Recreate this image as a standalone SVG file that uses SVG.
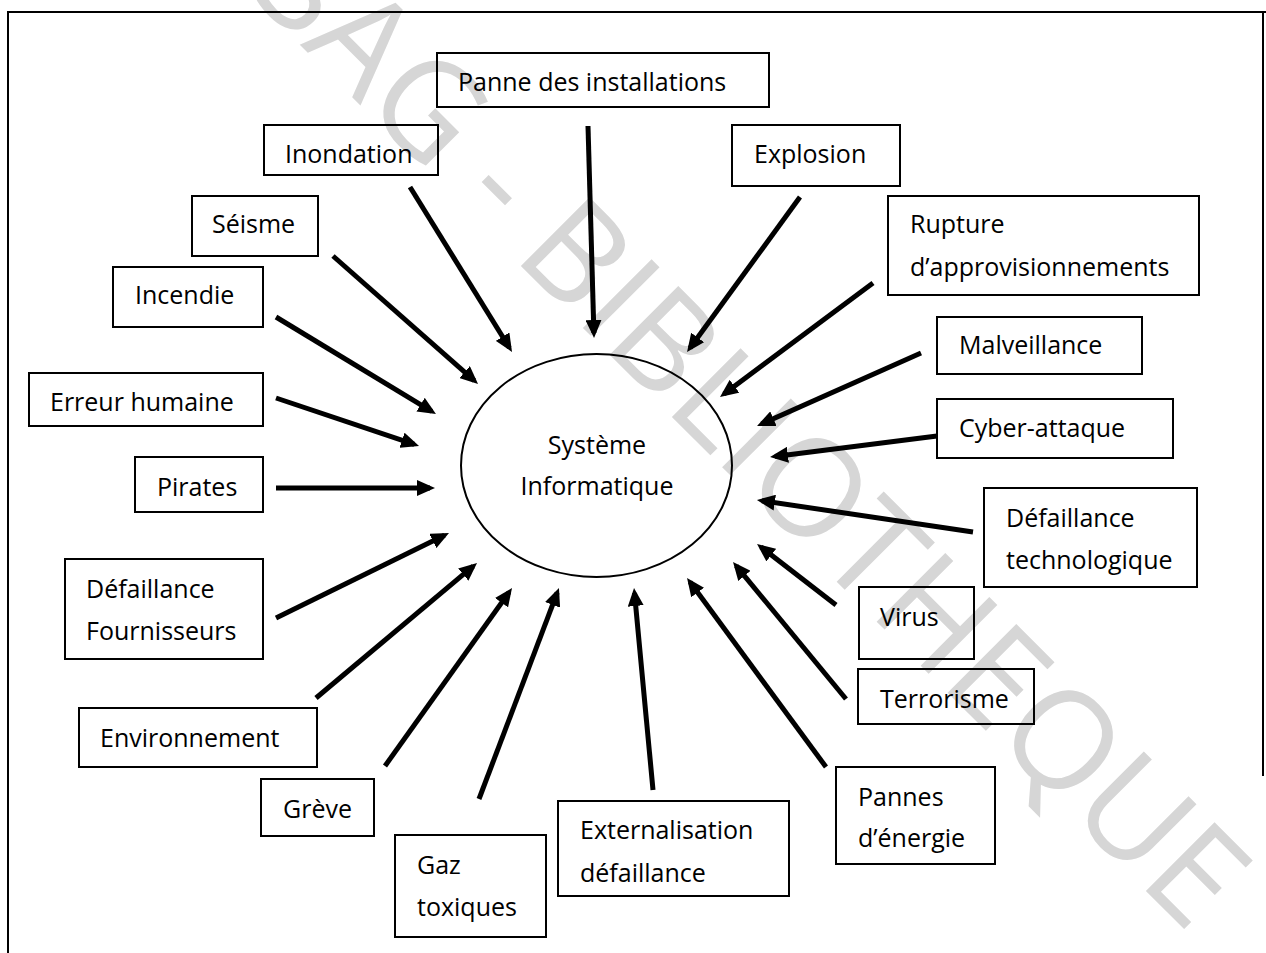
<svg xmlns="http://www.w3.org/2000/svg" width="1266" height="953" viewBox="0 0 1266 953">
<defs>
<style>
.box{fill:none;stroke:#000;stroke-width:2}
.lbl{font-family:"Open Sans","Noto Sans","Liberation Sans",sans-serif;font-size:25px;fill:#000}
.arr{stroke:#000;stroke-width:5;fill:none;marker-end:url(#ah)}
.wm{font-family:"Open Sans","Liberation Sans",sans-serif;font-size:136px;fill:#d6d6d6}
</style>
<marker id="ah" viewBox="0 0 18 16" refX="13" refY="8" markerWidth="18" markerHeight="16" markerUnits="userSpaceOnUse" orient="auto">
<path d="M0,0 L18,8 L0,16 Z" fill="#000"/>
</marker>
</defs>
<rect width="1266" height="953" fill="#fff"/>
<text class="wm" x="1190" y="935" text-anchor="end" transform="rotate(45 1190 935)">CESAG - BIBLIOTHEQUE</text>
<path d="M8,953 V12 H1266 M1263,12 V776" fill="none" stroke="#000" stroke-width="2"/>
<g id="connectors">
<line class="arr" x1="588" y1="126" x2="593.9" y2="333"/>
<line class="arr" x1="410" y1="187" x2="509.4" y2="347.7"/>
<line class="arr" x1="333" y1="256" x2="474.3" y2="380.7"/>
<line class="arr" x1="276" y1="317" x2="431.7" y2="411.4"/>
<line class="arr" x1="276" y1="398" x2="414.3" y2="444.4"/>
<line class="arr" x1="276" y1="488" x2="430" y2="488"/>
<line class="arr" x1="276" y1="618" x2="444.5" y2="535.2"/>
<line class="arr" x1="316" y1="698" x2="473.2" y2="566.2"/>
<line class="arr" x1="385" y1="766" x2="509.1" y2="592.1"/>
<line class="arr" x1="479" y1="799" x2="557.2" y2="592.7"/>
<line class="arr" x1="653" y1="790" x2="634.5" y2="593"/>
<line class="arr" x1="826" y1="767" x2="690" y2="582"/>
<line class="arr" x1="846" y1="699" x2="736.2" y2="565.9"/>
<line class="arr" x1="836" y1="605" x2="761" y2="547.1"/>
<line class="arr" x1="973" y1="532" x2="761.9" y2="500.7"/>
<line class="arr" x1="937" y1="436" x2="775" y2="456.4"/>
<line class="arr" x1="921" y1="353" x2="761.6" y2="424"/>
<line class="arr" x1="873" y1="283" x2="724" y2="394"/>
<line class="arr" x1="800" y1="197" x2="690" y2="348"/>
</g>
<g id="systeme">
<ellipse cx="596.5" cy="465.5" rx="135.5" ry="111.5" fill="none" stroke="#000" stroke-width="2"/>
<text class="lbl" x="597" y="454" text-anchor="middle">Système</text>
<text class="lbl" x="597" y="495" text-anchor="middle">Informatique</text>
</g>
<g id="panne"><rect class="box" x="437" y="53" width="332" height="54"/><text class="lbl" x="458" y="91">Panne des installations</text></g>
<g id="inondation"><rect class="box" x="264" y="125" width="174" height="50"/><text class="lbl" x="285" y="163">Inondation</text></g>
<g id="seisme"><rect class="box" x="192" y="196" width="126" height="60"/><text class="lbl" x="212" y="233">Séisme</text></g>
<g id="incendie"><rect class="box" x="113" y="267" width="150" height="60"/><text class="lbl" x="135" y="304">Incendie</text></g>
<g id="erreur"><rect class="box" x="29" y="373" width="234" height="53"/><text class="lbl" x="50" y="411">Erreur humaine</text></g>
<g id="pirates"><rect class="box" x="135" y="457" width="128" height="55"/><text class="lbl" x="157" y="496">Pirates</text></g>
<g id="fournisseurs"><rect class="box" x="65" y="559" width="198" height="100"/><text class="lbl" x="86" y="598">Défaillance</text><text class="lbl" x="86" y="640">Fournisseurs</text></g>
<g id="environnement"><rect class="box" x="79" y="708" width="238" height="59"/><text class="lbl" x="100" y="747">Environnement</text></g>
<g id="greve"><rect class="box" x="261" y="779" width="113" height="57"/><text class="lbl" x="283" y="818">Grève</text></g>
<g id="gaz"><rect class="box" x="395" y="835" width="151" height="102"/><text class="lbl" x="417" y="874">Gaz</text><text class="lbl" x="417" y="916">toxiques</text></g>
<g id="externalisation"><rect class="box" x="558" y="801" width="231" height="95"/><text class="lbl" x="580" y="839">Externalisation</text><text class="lbl" x="580" y="882">défaillance</text></g>
<g id="energie"><rect class="box" x="836" y="767" width="159" height="97"/><text class="lbl" x="858" y="806">Pannes</text><text class="lbl" x="858" y="847">d’énergie</text></g>
<g id="terrorisme"><rect class="box" x="858" y="669" width="176" height="55"/><text class="lbl" x="880" y="708">Terrorisme</text></g>
<g id="virus"><rect class="box" x="859" y="587" width="115" height="72"/><text class="lbl" x="880" y="626">Virus</text></g>
<g id="technologique"><rect class="box" x="984" y="488" width="213" height="99"/><text class="lbl" x="1006" y="527">Défaillance</text><text class="lbl" x="1006" y="569">technologique</text></g>
<g id="cyber"><rect class="box" x="937" y="399" width="236" height="59"/><text class="lbl" x="959" y="437">Cyber-attaque</text></g>
<g id="malveillance"><rect class="box" x="937" y="317" width="205" height="57"/><text class="lbl" x="959" y="354">Malveillance</text></g>
<g id="rupture"><rect class="box" x="888" y="196" width="311" height="99"/><text class="lbl" x="910" y="233">Rupture</text><text class="lbl" x="910" y="276">d’approvisionnements</text></g>
<g id="explosion"><rect class="box" x="732" y="125" width="168" height="61"/><text class="lbl" x="754" y="163">Explosion</text></g>
</svg>
